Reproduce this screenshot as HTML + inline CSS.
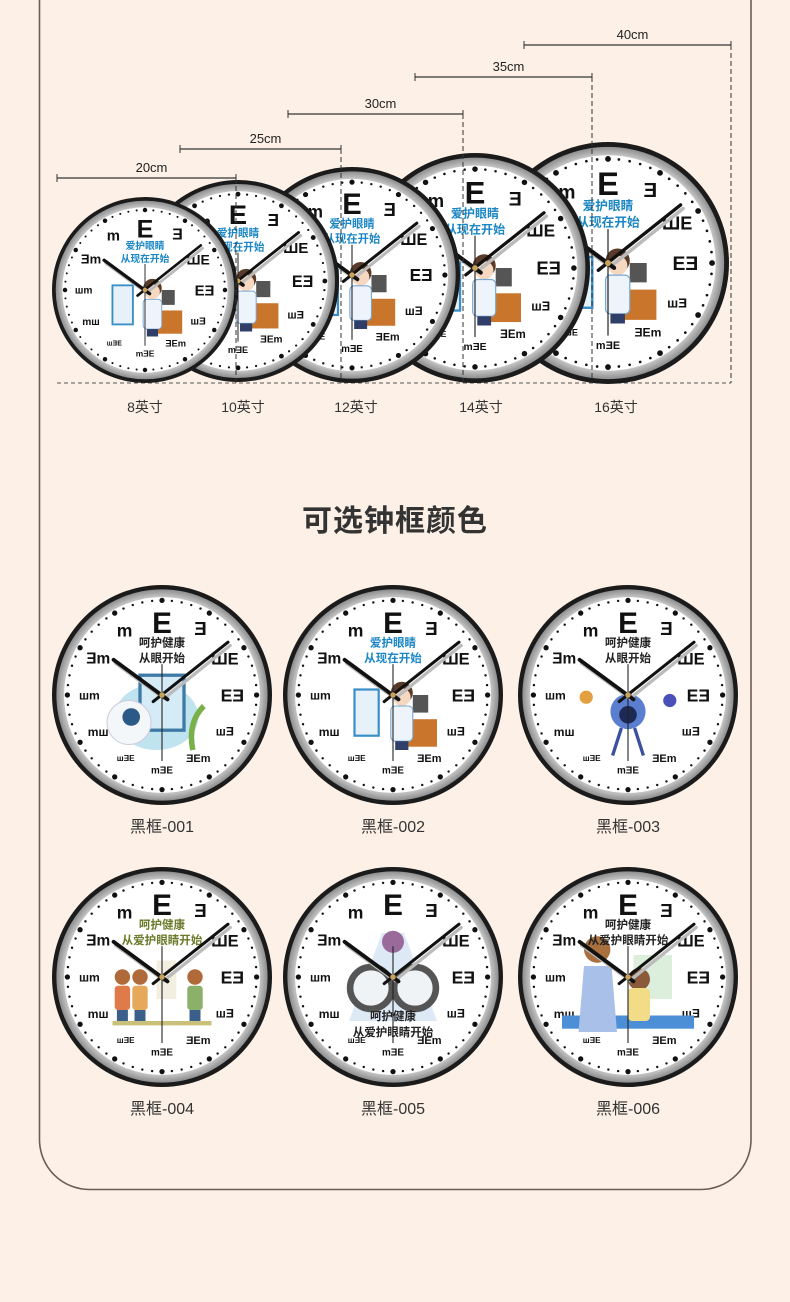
<!DOCTYPE html>
<html><head><meta charset="utf-8"><style>
html,body{margin:0;padding:0;background:#fdf1e7;}
body{width:790px;height:1302px;position:relative;overflow:hidden;font-family:"Liberation Sans","Noto Sans CJK SC",sans-serif;}
svg{position:absolute;left:0;top:0}
</style></head><body>
<svg id="s" width="790" height="1302" viewBox="0 0 790 1302" xmlns="http://www.w3.org/2000/svg">
<defs>
<radialGradient id="bz" cx="50%" cy="50%" r="50%">
<stop offset="85%" stop-color="#e6e6e6"/><stop offset="93%" stop-color="#c4c4c4"/><stop offset="100%" stop-color="#8e8e8e"/>
</radialGradient>
</defs>
<path d="M39.5 0 V1140 A50 50 0 0 0 89.5 1189.5 H701 A50 50 0 0 0 751 1140 V0" fill="none" stroke="#6d5c56" stroke-width="1.6"/>
<g id="gtop"></g>
<g id="gbot"></g>
</svg>
<script>
(function(){
const NS="http://www.w3.org/2000/svg";
function el(t,a,p,txt){const e=document.createElementNS(NS,t);for(const k in a)e.setAttribute(k,a[k]);if(txt!=null)e.textContent=txt;p.appendChild(e);return e;}
const T=document.getElementById('gtop'),BG=document.getElementById('gbot');
function clock(p,cx,cy,r,cap,capColor,art){
 const g=el('g',{},p);
 el('circle',{cx,cy,r,fill:'#1b1b1b'},g);
 el('circle',{cx,cy,r:r*0.96,fill:'url(#bz)'},g);
 el('circle',{cx,cy,r:r*0.89,fill:'#fff'},g);
 for(let i=0;i<60;i++){const a=i*Math.PI/30;const big=i%5==0;
  el('circle',{cx:cx+Math.sin(a)*r*0.86,cy:cy-Math.cos(a)*r*0.86,r:big?r*0.024:r*0.011,fill:'#111'},g);}
 const L=[['E',0.27,0],['Ǝ',0.17,1],['ШE',0.15,2],['EƎ',0.16,3],['шƎ',0.11,4],['ƎEm',0.1,5],['mƎE',0.09,6],['шƎE',0.075,7],['mш',0.11,8],['шm',0.11,9],['Ǝm',0.14,10],['m',0.16,11]];
 const rad=[0.66,0.7,0.66,0.64,0.66,0.66,0.68,0.66,0.67,0.66,0.67,0.68];
 L.forEach(function(v,i){const t=v[0],s=v[1],h=v[2];const a=h*Math.PI/6;const rr=r*rad[i];
  el('text',{x:cx+Math.sin(a)*rr,y:cy-Math.cos(a)*rr+r*s*0.36,'font-size':r*s,'font-weight':'bold','text-anchor':'middle',fill:'#111','font-family':'Liberation Sans,sans-serif'},g,t);});
 if(art)art(g,cx,cy,r);
 if(cap){cap.forEach(function(c,i){el('text',{x:cx,y:cy-r*0.44+i*r*0.14,'font-size':r*0.105,'font-weight':'bold','text-anchor':'middle',fill:capColor},g,c);});}
 el('line',{x1:cx,y1:cy,x2:cx-r*0.44,y2:cy-r*0.32,stroke:'#bbb','stroke-width':r*0.035,'stroke-linecap':'round',transform:'translate('+r*0.02+','+r*0.03+')'},g);
 el('line',{x1:cx,y1:cy,x2:cx+r*0.6,y2:cy-r*0.48,stroke:'#bbb','stroke-width':r*0.03,'stroke-linecap':'round',transform:'translate('+r*0.02+','+r*0.03+')'},g);
 el('line',{x1:cx+r*0.05,y1:cy+r*0.04,x2:cx-r*0.44,y2:cy-r*0.32,stroke:'#111','stroke-width':r*0.035,'stroke-linecap':'round'},g);
 el('line',{x1:cx-r*0.08,y1:cy+r*0.06,x2:cx+r*0.6,y2:cy-r*0.48,stroke:'#111','stroke-width':r*0.028,'stroke-linecap':'round'},g);
 el('line',{x1:cx,y1:cy-r*0.28,x2:cx,y2:cy+r*0.6,stroke:'#222','stroke-width':r*0.01},g);
 el('circle',{cx,cy,r:r*0.025,fill:'#c9a25a'},g);
}
function doc(g,cx,cy,r){
 el('rect',{x:cx-r*0.35,y:cy-r*0.05,width:r*0.22,height:r*0.42,fill:'#e6f1fa',stroke:'#3a8fc8','stroke-width':r*0.02},g);
 el('rect',{x:cx+r*0.1,y:cy+r*0.22,width:r*0.3,height:r*0.25,fill:'#c9762c'},g);
 el('rect',{x:cx+r*0.18,y:cy,width:r*0.14,height:r*0.16,fill:'#555'},g);
 el('circle',{cx:cx+r*0.08,cy:cy-r*0.02,r:r*0.1,fill:'#5a3a28'},g);
 el('circle',{cx:cx+r*0.08,cy:cy+r*0.02,r:r*0.08,fill:'#f6d8c0'},g);
 el('rect',{x:cx-r*0.02,y:cy+r*0.1,width:r*0.2,height:r*0.32,rx:r*0.04,fill:'#eef4fb',stroke:'#7aa6cf','stroke-width':r*0.01},g);
 el('rect',{x:cx+r*0.02,y:cy+r*0.42,width:r*0.12,height:r*0.08,fill:'#2f3f6a'},g);
}
function eye(g,cx,cy,r){
 el('ellipse',{cx:cx-r*0.05,cy:cy+r*0.2,rx:r*0.38,ry:r*0.3,fill:'#bfe3ef'},g);
 el('rect',{x:cx-r*0.2,y:cy-r*0.18,width:r*0.4,height:r*0.5,fill:'#d5ecf6',stroke:'#3e7aa5','stroke-width':r*0.03},g);
 el('circle',{cx:cx-r*0.3,cy:cy+r*0.25,r:r*0.2,fill:'#f4f7fa',stroke:'#ccd','stroke-width':1},g);
 el('circle',{cx:cx-r*0.28,cy:cy+r*0.2,r:r*0.08,fill:'#2c5a86'},g);
 el('path',{d:'M'+(cx+r*0.28)+' '+(cy+r*0.5)+' q'+(-r*0.05)+' '+(-r*0.25)+' '+(r*0.1)+' '+(-r*0.4),stroke:'#7ab04a','stroke-width':r*0.05,fill:'none'},g);
}
function eye3(g,cx,cy,r){
 el('circle',{cx,cy:cy+r*0.15,r:r*0.16,fill:'#5b7fd0'},g);
 el('circle',{cx,cy:cy+r*0.18,r:r*0.08,fill:'#1d2a55'},g);
 el('line',{x1:cx-r*0.06,y1:cy+r*0.3,x2:cx-r*0.14,y2:cy+r*0.55,stroke:'#3b4fa0','stroke-width':r*0.03},g);
 el('line',{x1:cx+r*0.06,y1:cy+r*0.3,x2:cx+r*0.14,y2:cy+r*0.55,stroke:'#3b4fa0','stroke-width':r*0.03},g);
 el('circle',{cx:cx-r*0.38,cy:cy+r*0.02,r:r*0.06,fill:'#e2a040'},g);
 el('circle',{cx:cx+r*0.38,cy:cy+r*0.05,r:r*0.06,fill:'#4a50b8'},g);
}
function kids(g,cx,cy,r){
 el('rect',{x:cx-r*0.45,y:cy+r*0.4,width:r*0.9,height:r*0.04,fill:'#c9c07a'},g);
 el('rect',{x:cx-r*0.05,y:cy-r*0.15,width:r*0.18,height:r*0.35,fill:'#f3efe0'},g);
 [[-0.36,'#e07a4a'],[-0.2,'#e6a85a'],[0.3,'#8ab06a']].forEach(function(v){const dx=v[0],c=v[1];
  el('circle',{cx:cx+r*dx,cy:cy,r:r*0.07,fill:'#b06a3a'},g);
  el('rect',{x:cx+r*(dx-0.07),y:cy+r*0.08,width:r*0.14,height:r*0.22,rx:r*0.03,fill:c},g);
  el('rect',{x:cx+r*(dx-0.05),y:cy+r*0.3,width:r*0.1,height:r*0.1,fill:'#3a5f8a'},g);});
}
function glasses(g,cx,cy,r){
 el('path',{d:'M'+(cx-r*0.4)+' '+(cy+r*0.4)+' L'+(cx-r*0.1)+' '+(cy-r*0.4)+' L'+(cx+r*0.1)+' '+(cy-r*0.4)+' L'+(cx+r*0.4)+' '+(cy+r*0.4)+'Z',fill:'#dde9f5'},g);
 el('circle',{cx:cx-r*0.2,cy:cy+r*0.1,r:r*0.19,fill:'#f0f3f5',stroke:'#555','stroke-width':r*0.06},g);
 el('circle',{cx:cx+r*0.2,cy:cy+r*0.1,r:r*0.19,fill:'#f0f3f5',stroke:'#555','stroke-width':r*0.06},g);
 el('circle',{cx,cy:cy-r*0.32,r:r*0.1,fill:'#9a6a9a'},g);
}
function mom(g,cx,cy,r){
 el('rect',{x:cx-r*0.6,y:cy+r*0.35,width:r*1.2,height:r*0.12,fill:'#4d8fd6'},g);
 el('rect',{x:cx+r*0.05,y:cy-r*0.2,width:r*0.35,height:r*0.4,fill:'#dcefdc'},g);
 el('circle',{cx:cx-r*0.28,cy:cy-r*0.25,r:r*0.12,fill:'#a9703f'},g);
 el('path',{d:'M'+(cx-r*0.4)+' '+(cy-r*0.1)+' h'+(r*0.25)+' l'+(r*0.05)+' '+(r*0.6)+' h'+(-r*0.35)+'z',fill:'#a9c0e8'},g);
 el('circle',{cx:cx+r*0.1,cy:cy+r*0.02,r:r*0.1,fill:'#8a5a3a'},g);
 el('rect',{x:cx,y:cy+r*0.1,width:r*0.2,height:r*0.3,rx:r*0.04,fill:'#f3dc88'},g);
}
el('line',{x1:57,y1:383,x2:731,y2:383,stroke:'#555','stroke-width':1,'stroke-dasharray':'4 3'},T);
const dims=[[57,236,178,'20cm'],[180,341,149,'25cm'],[288,463,114,'30cm'],[415,592,77,'35cm'],[524,731,45,'40cm']];
const tc=[[608,263,121],[475,268,115],[352,275,108],[238,281,101],[145,290,93]];
tc.forEach(function(v){clock(T,v[0],v[1],v[2],['爱护眼睛','从现在开始'],'#1b86c4',doc);});
dims.forEach(function(v){const a=v[0],b=v[1],y=v[2],t=v[3];
 el('line',{x1:a,y1:y,x2:b,y2:y,stroke:'#333','stroke-width':1.2},T);
 el('line',{x1:a,y1:y-4,x2:a,y2:y+4,stroke:'#333','stroke-width':1},T);
 el('line',{x1:b,y1:y-4,x2:b,y2:y+4,stroke:'#333','stroke-width':1},T);
 el('line',{x1:b,y1:y,x2:b,y2:383,stroke:'#333','stroke-width':1,'stroke-dasharray':'5 3'},T);
 el('text',{x:(a+b)/2+5,y:y-6,'font-size':13,'text-anchor':'middle',fill:'#222'},T,t);
});
[[145,'8英寸'],[243,'10英寸'],[356,'12英寸'],[481,'14英寸'],[616,'16英寸']].forEach(function(v){el('text',{x:v[0],y:412,'font-size':14,'text-anchor':'middle',fill:'#333'},T,v[1]);});
el('text',{x:395,y:531,'font-size':30,'font-weight':'bold','text-anchor':'middle',fill:'#333','letter-spacing':'1'},BG,'可选钟框颜色');
const B=[
 [162,695,['呵护健康','从眼开始'],'#222',eye,'黑框-001'],
 [393,695,['爱护眼睛','从现在开始'],'#1b86c4',doc,'黑框-002'],
 [628,695,['呵护健康','从眼开始'],'#222',eye3,'黑框-003'],
 [162,977,['呵护健康','从爱护眼睛开始'],'#6b7a2a',kids,'黑框-004'],
 [393,977,null,'#222',glasses,'黑框-005'],
 [628,977,['呵护健康','从爱护眼睛开始'],'#222',mom,'黑框-006']];
B.forEach(function(v){clock(BG,v[0],v[1],110,v[2],v[3],v[4]);
 el('text',{x:v[0],y:v[1]+137,'font-size':16,'text-anchor':'middle',fill:'#333'},BG,v[5]);});
el('text',{x:393,y:1020,'font-size':11.5,'font-weight':'bold','text-anchor':'middle',fill:'#222'},BG,'呵护健康');
el('text',{x:393,y:1036,'font-size':11.5,'font-weight':'bold','text-anchor':'middle',fill:'#222'},BG,'从爱护眼睛开始');
})();
</script>
</body></html>
